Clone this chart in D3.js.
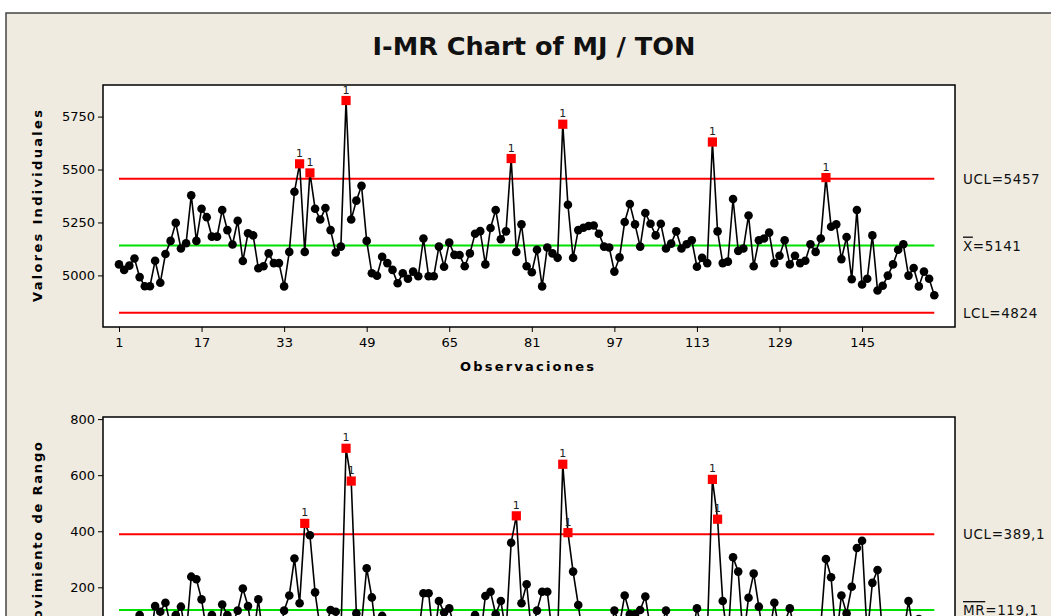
<!DOCTYPE html>
<html>
<head>
<meta charset="utf-8">
<script src="https://cdn.jsdelivr.net/npm/d3@7"></script>
<style>
  body { margin: 0; background: #ffffff; overflow: hidden; }
  text { font-family: "DejaVu Sans", Verdana, sans-serif; }
</style>
</head>
<body>
<div id="chart"></div>
<script>
var individualValues = [
  5052, 5026, 5046, 5080, 4992, 4949, 4949, 5069, 4965, 5101,
  5163, 5248, 5127, 5152, 5378, 5163, 5315, 5275, 5183, 5183,
  5309, 5214, 5146, 5258, 5068, 5199, 5189, 5034, 5043, 5104,
  5058, 5058, 4948, 5111, 5395, 5527, 5111, 5484, 5315, 5264,
  5318, 5214, 5108, 5136, 5826, 5264, 5353, 5423, 5163, 5010,
  4998, 5088, 5058, 5026, 4963, 5010, 4984, 5018, 4996, 5174,
  4996, 4996, 5136, 5041, 5155, 5097, 5096, 5043, 5104, 5197,
  5209, 5052, 5224, 5309, 5171, 5208, 5552, 5111, 5241, 5043,
  5015, 5121, 4948, 5132, 5104, 5083, 5714, 5334, 5083, 5214,
  5225, 5233, 5236, 5197, 5136, 5132, 5018, 5085, 5252, 5337,
  5241, 5136, 5295, 5244, 5189, 5244, 5127, 5150, 5208, 5127,
  5147, 5166, 5041, 5083, 5058, 5630, 5208, 5058, 5065, 5361,
  5116, 5127, 5283, 5043, 5166, 5174, 5202, 5058, 5093, 5166,
  5052, 5093, 5058, 5069, 5147, 5111, 5174, 5462, 5230, 5241,
  5077, 5181, 4982, 5309, 4957, 4984, 5189, 4929, 4951, 4999,
  5052, 5121, 5147, 4999, 5035, 4948, 5018, 4984, 4906
];

// moving ranges, observations 2..159
var movingRanges = [
  26, 20, 34, 101, 43, 2, 133, 113, 145,
  62, 101, 131, 25, 238, 229, 157, 40, 101, 3,
  139, 101, 68, 117, 196, 133, 10, 157, 9, 61,
  46, 4, 117, 171, 303, 143, 428, 386, 182, 51,
  54, 119, 113, 28, 696, 579, 107, 70, 268, 164,
  12, 98, 30, 32, 63, 47, 26, 34, 22, 179,
  179, 2, 151, 110, 125, 58, 1, 53, 61, 101,
  12, 169, 184, 104, 151, 37, 359, 455, 143, 211,
  28, 117, 184, 184, 28, 21, 639, 395, 256, 137,
  11, 8, 3, 39, 61, 4, 117, 67, 171, 104,
  104, 119, 167, 51, 55, 55, 117, 23, 58, 81,
  20, 19, 125, 42, 25, 585, 443, 151, 7, 307,
  256, 11, 163, 249, 131, 8, 28, 145, 35, 73,
  125, 41, 35, 11, 78, 36, 63, 301, 236, 11,
  171, 107, 202, 340, 366, 27, 216, 262, 22, 48,
  53, 69, 26, 151, 36, 87, 70, 34, 78
];

var obsTicks = [1, 17, 33, 49, 65, 81, 97, 113, 129, 145];
var iTicks = [5000, 5250, 5500, 5750];
var mrTicks = [200, 400, 600, 800];

var iLimitValues = [5457, 5141, 4824];
var iLimitLabels = [["", "UCL=5457"], ["X", "=5141"], ["", "LCL=4824"]];
var mrLimitValues = [389.1, 119.1];
var mrLimitLabels = [["", "UCL=389,1"], ["MR", "=119,1"]];

var width = 1051,
  height = 616;

var svg = d3
  .select("#chart")
  .append("svg")
  .attr("width", width)
  .attr("height", height);

// beige frame
svg
  .append("rect")
  .attr("x", 6)
  .attr("y", 13)
  .attr("width", 1200)
  .attr("height", 800)
  .style("fill", "#efebe1")
  .style("stroke", "#444")
  .style("stroke-width", 1.5);

svg
  .append("text")
  .attr("x", 534)
  .attr("y", 55)
  .attr("text-anchor", "middle")
  .attr("textLength", 323)
  .attr("lengthAdjust", "spacingAndGlyphs")
  .style("font-size", "25px")
  .style("font-weight", "bold")
  .style("fill", "#111")
  .text("I-MR Chart of MJ / TON");

var plotLeft = 103,
  plotRight = 955;

var x = d3.scaleLinear().domain([1, 159]).range([119, 934.3]);

function drawPanel(p) {
  var g = svg.append("g");

  g.append("rect")
    .attr("x", plotLeft)
    .attr("y", p.top)
    .attr("width", plotRight - plotLeft)
    .attr("height", p.bottom - p.top)
    .style("fill", "white")
    .style("stroke", "black")
    .style("stroke-width", 1.5);

  // y axis
  var yAxis = g
    .append("g")
    .attr("transform", "translate(" + plotLeft + ",0)")
    .call(
      d3.axisLeft(p.y)
        .tickValues(p.ticks)
        .tickFormat(d3.format("d"))
        .tickSize(5)
        .tickSizeOuter(0)
        .tickPadding(3)
    );
  yAxis.select(".domain").remove();
  yAxis.selectAll("text").style("font-size", "13px").style("font-family", "DejaVu Sans");

  // x axis (the lower panel's one falls below the picture)
  if (p.showX) {
    var xAxis = g
      .append("g")
      .attr("transform", "translate(0," + p.bottom + ")")
      .call(d3.axisBottom(x).tickValues(obsTicks).tickSize(5).tickSizeOuter(0).tickPadding(6));
    xAxis.select(".domain").remove();
    xAxis.selectAll("text").style("font-size", "13px").style("font-family", "DejaVu Sans");
  }

  g.append("text")
    .attr("transform", "translate(42," + (p.top + p.bottom) / 2 + ") rotate(-90)")
    .attr("text-anchor", "middle")
    .attr("textLength", 192)
    .style("font-size", "13px")
    .style("font-weight", "bold")
    .text(p.yLabel);

  // limit lines
  g.selectAll(".lim")
    .data(p.limits)
    .enter()
    .append("line")
    .attr("x1", x(1))
    .attr("x2", x(159))
    .attr("y1", function (d) { return p.y(d); })
    .attr("y2", function (d) { return p.y(d); })
    .style("stroke", function (d, i) { return i == p.centerIndex ? "#00e000" : "#ff0000"; })
    .style("stroke-width", 2);

  var lab = g
    .selectAll(".limlab")
    .data(p.limits)
    .enter()
    .append("text")
    .attr("x", 963)
    .attr("y", function (d) { return p.y(d) + 5; })
    .style("font-size", "13.5px")
    .style("letter-spacing", "0.6px")
    .style("fill", "#111");
  lab
    .append("tspan")
    .style("text-decoration", "overline")
    .text(function (d, i) { return p.labels[i][0]; });
  lab.append("tspan").text(function (d, i) { return p.labels[i][1]; });

  // series
  var line = d3
    .line()
    .x(function (d) { return x(d.obs); })
    .y(function (d) { return p.y(d.value); });

  g.append("path")
    .datum(p.data)
    .attr("d", line)
    .style("fill", "none")
    .style("stroke", "black")
    .style("stroke-width", 1.6);

  var normal = p.data.filter(function (d) { return !p.flag(d.value); });
  var flagged = p.data.filter(function (d) { return p.flag(d.value); });

  g.selectAll(".pt")
    .data(normal)
    .enter()
    .append("circle")
    .attr("cx", function (d) { return x(d.obs); })
    .attr("cy", function (d) { return p.y(d.value); })
    .attr("r", 4.3)
    .style("fill", "black");

  g.selectAll(".bad")
    .data(flagged)
    .enter()
    .append("rect")
    .attr("x", function (d) { return x(d.obs) - 4.6; })
    .attr("y", function (d) { return p.y(d.value) - 4.6; })
    .attr("width", 9.2)
    .attr("height", 9.2)
    .style("fill", "#ff0000");

  g.selectAll(".badlab")
    .data(flagged)
    .enter()
    .append("text")
    .attr("x", function (d) { return x(d.obs); })
    .attr("y", function (d) { return p.y(d.value) - 7; })
    .attr("text-anchor", "middle")
    .style("font-size", "11px")
    .style("fill", "#222")
    .text("1");
}

var iData = individualValues.map(function (v, i) { return { obs: i + 1, value: v }; });
var mrData = movingRanges.map(function (v, i) { return { obs: i + 2, value: v }; });

drawPanel({
  top: 85,
  bottom: 327,
  y: d3.scaleLinear().domain([5000, 5750]).range([275.4, 116.6]),
  ticks: iTicks,
  showX: true,
  yLabel: "Valores Individuales",
  limits: iLimitValues,
  labels: iLimitLabels,
  centerIndex: 1,
  data: iData,
  flag: function (v) { return v > iLimitValues[0] || v < iLimitValues[2]; }
});

drawPanel({
  top: 417,
  bottom: 659,
  y: d3.scaleLinear().domain([0, 800]).range([643.4, 419.1]),
  ticks: mrTicks,
  showX: false,
  yLabel: "Movimiento de Rango",
  limits: mrLimitValues,
  labels: mrLimitLabels,
  centerIndex: 1,
  data: mrData,
  flag: function (v) { return v > mrLimitValues[0]; }
});

// axis title under the top panel
svg
  .append("text")
  .attr("x", 527)
  .attr("y", 371)
  .attr("text-anchor", "middle")
  .attr("textLength", 134)
  .style("font-size", "13px")
  .style("font-weight", "bold")
  .text("Observaciones");
</script>
</body>
</html>
